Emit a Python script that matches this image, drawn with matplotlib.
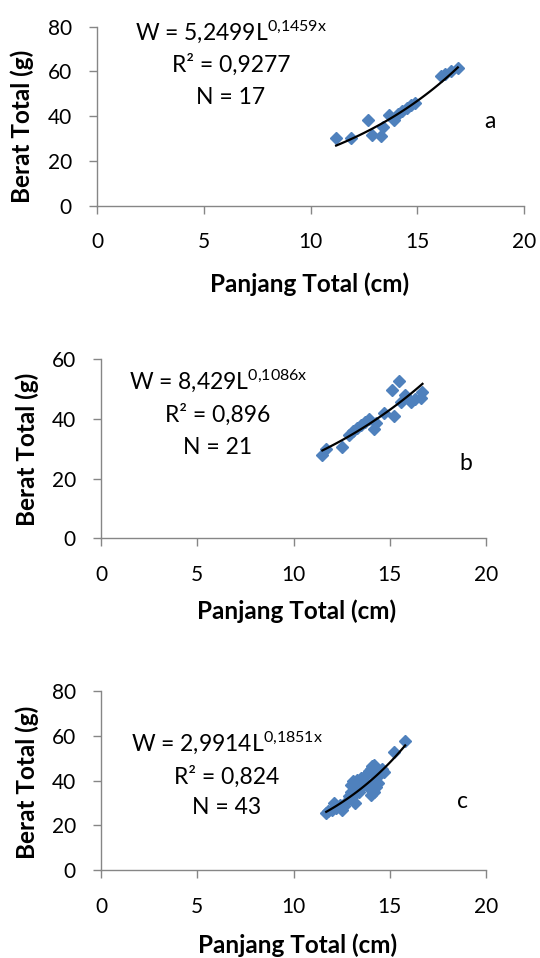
import numpy as np
import matplotlib
matplotlib.use("Agg")
import matplotlib.pyplot as plt

plt.rcParams['font.family'] = ['Lato', 'DejaVu Sans']
plt.rcParams['mathtext.fontset'] = 'custom'
plt.rcParams['mathtext.rm'] = 'Lato'
plt.rcParams['mathtext.it'] = 'Lato:italic'
plt.rcParams['mathtext.bf'] = 'Lato:bold'

# ---------------- data ----------------
x_a = [11.2, 11.9, 12.7, 12.9, 13.3, 13.4, 13.7, 13.9, 14.1, 14.3, 14.5, 14.7, 14.9, 16.1, 16.3, 16.6, 16.9]
y_a = [30.5, 30.5, 38.5, 31.5, 31.0, 35.0, 40.5, 38.5, 41.0, 42.5, 43.5, 45.0, 46.0, 58.0, 59.0, 60.0, 61.5]
coef_a = (5.2499, 0.1459)
r2_a = "0,9277"

x_b = [11.5, 11.7, 12.5, 12.9, 13.1, 13.3, 13.5, 13.7, 13.9, 14.2, 14.3, 14.7, 15.1, 15.2, 15.5, 15.6, 15.8, 16.1, 16.3, 16.6, 16.7]
y_b = [28.0, 30.0, 30.5, 34.5, 36.0, 37.0, 38.0, 39.0, 40.0, 36.5, 38.5, 42.0, 49.5, 41.0, 52.5, 45.5, 48.0, 45.5, 46.5, 47.0, 49.0]
coef_b = (8.429, 0.1086)
r2_b = "0,896"

x_c = [11.7, 11.8, 12.0, 12.1, 12.2, 12.4, 12.5, 12.6, 12.8, 12.9,
       13.0, 13.0, 13.1, 13.1, 13.2, 13.2, 13.3, 13.3, 13.4, 13.4,
       13.5, 13.5, 13.6, 13.7, 13.8, 13.9, 14.0, 14.0, 14.0, 14.1,
       14.1, 14.2, 14.2, 14.2, 14.3, 14.3, 14.4, 14.4, 14.5, 14.6,
       14.7, 15.2, 15.8]
y_c = [25.5, 26.5, 27.0, 30.0, 28.0, 29.0, 27.0, 28.5, 31.0, 33.0,
       35.0, 38.0, 40.0, 33.0, 30.0, 36.0, 38.0, 40.5, 35.0, 39.0,
       37.0, 41.0, 40.0, 42.0, 43.0, 44.5, 33.5, 36.0, 45.0, 38.0,
       46.5, 35.0, 40.0, 47.0, 37.0, 42.0, 39.0, 44.0, 43.0, 45.0,
       44.0, 53.0, 57.5]
coef_c = (2.9914, 0.1851)
r2_c = "0,824"

x_ticks = [0, 5, 10, 15, 20]
y_ticks_a = [0, 20, 40, 60, 80]
y_ticks_b = [0, 20, 40, 60]
y_ticks_c = [0, 20, 40, 60, 80]
panel_letters = ["a", "b", "c"]
xlabel = "Panjang Total (cm)"
ylabel = "Berat Total (g)"

# ---------------- layout helpers ----------------
W, H = 540, 958
fig = plt.figure(figsize=(W / 100, H / 100), dpi=100)
fig.patch.set_facecolor('white')


def fx(px):
    return px / W


def fy(py):
    return 1 - py / H


def make_axes(left, right, top, bottom):
    return fig.add_axes([fx(left), fy(bottom), fx(right) - fx(left), fy(top) - fy(bottom)])


panels = [
    dict(ax=make_axes(97, 524, 26.7, 205.8), x=x_a, y=y_a, coef=coef_a, r2=r2_a, yt=y_ticks_a,
         eq_xy=(231, 32), r2_xy=(231, 65), n_xy=(231, 97), let_xy=(490, 122),
         xl_xy=(310, 284), yl_xy=(22, 203)),
    dict(ax=make_axes(101, 486, 359, 538.3), x=x_b, y=y_b, coef=coef_b, r2=r2_b, yt=y_ticks_b,
         eq_xy=(218, 381), r2_xy=(218, 415), n_xy=(218, 447), let_xy=(466, 463),
         xl_xy=(297, 611), yl_xy=(27, 526)),
    dict(ax=make_axes(101, 486, 691, 870.3), x=x_c, y=y_c, coef=coef_c, r2=r2_c, yt=y_ticks_c,
         eq_xy=(227, 743), r2_xy=(227, 777), n_xy=(227, 808), let_xy=(462, 801),
         xl_xy=(298, 945), yl_xy=(27, 859)),
]

blue = '#4F81BD'
gray = '#868686'
FS_TICK = 15
FS_TXT = 16.5
FS_LAB = 17.5

for p, letter in zip(panels, panel_letters):
    ax = p['ax']
    xs = np.array(p['x'])
    ys = np.array(p['y'])
    ax.plot(xs, ys, linestyle='none', marker='D', ms=6.6, color=blue, mec=blue, zorder=2)
    a, b = p['coef']
    xx = np.linspace(xs.min(), xs.max(), 100)
    ax.plot(xx, a * np.exp(b * xx), color='black', lw=1.6, zorder=3)

    ax.set_xlim(0, 20)
    ax.set_ylim(0, p['yt'][-1])
    ax.set_xticks(x_ticks)
    ax.set_yticks(p['yt'])
    for s in ['top', 'right']:
        ax.spines[s].set_visible(False)
    for s in ['left', 'bottom']:
        ax.spines[s].set_color(gray)
        ax.spines[s].set_linewidth(1.0)
    ax.tick_params(direction='out', length=5.5, width=1.0, color=gray,
                   labelsize=FS_TICK, labelcolor='black')
    ax.tick_params(axis='x', pad=13.5)
    ax.tick_params(axis='y', pad=12.5)
    ax.patch.set_alpha(0)

    b_str = f"{b}".replace('.', '{,}')
    eq = "W = " + f"{a}".replace('.', ',') + r"L$^{\mathregular{" + b_str + "x}}$"
    fig.text(fx(p['eq_xy'][0]), fy(p['eq_xy'][1]), eq, ha='center', va='center', fontsize=FS_TXT)
    fig.text(fx(p['r2_xy'][0]), fy(p['r2_xy'][1]), "R² = " + p['r2'], ha='center', va='center', fontsize=FS_TXT)
    fig.text(fx(p['n_xy'][0]), fy(p['n_xy'][1]), f"N = {len(xs)}", ha='center', va='center', fontsize=FS_TXT)
    fig.text(fx(p['let_xy'][0]), fy(p['let_xy'][1]), letter, ha='center', va='center', fontsize=FS_TXT)
    fig.text(fx(p['xl_xy'][0]), fy(p['xl_xy'][1]), xlabel, ha='center', va='center',
             fontsize=FS_LAB, fontweight='bold')
    fig.text(fx(p['yl_xy'][0]), fy(p['yl_xy'][1]), ylabel, ha='center', va='bottom',
             fontsize=FS_LAB, fontweight='bold', rotation=90)

fig.savefig('out.png', dpi=100, facecolor='white')
